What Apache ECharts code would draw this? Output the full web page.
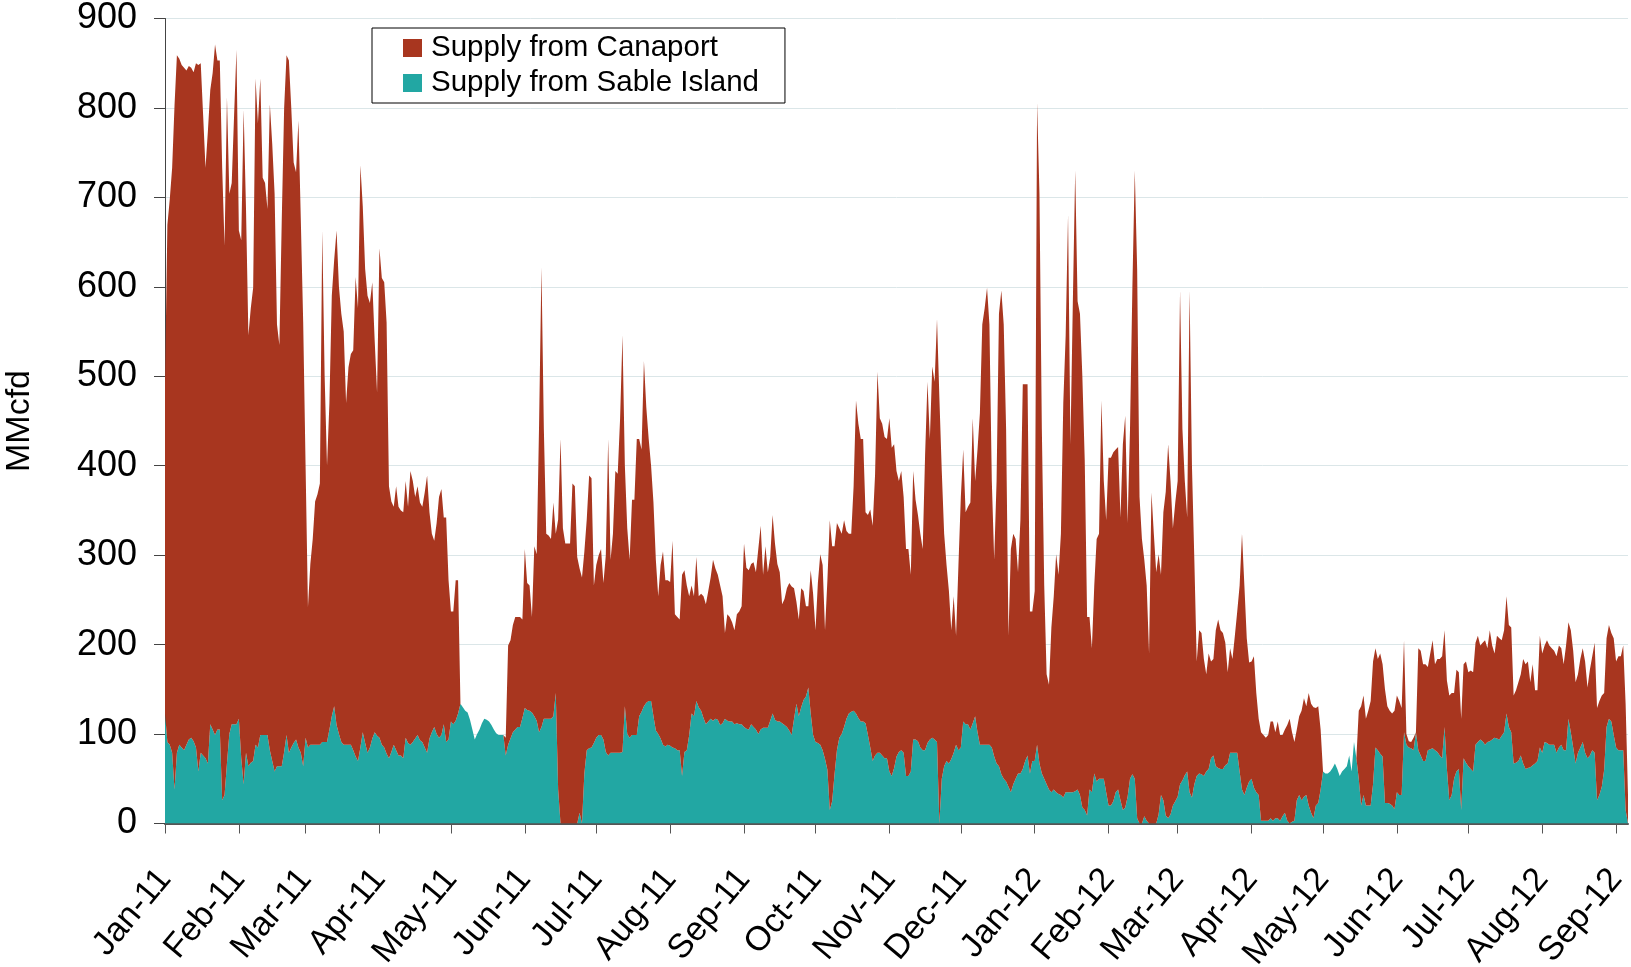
<!DOCTYPE html>
<html>
<head>
<meta charset="utf-8">
<title>Supply from Canaport and Sable Island</title>
<script src="https://cdn.jsdelivr.net/npm/echarts@6/dist/echarts.min.js"></script>
<style>
  html, body { margin: 0; padding: 0; background: #fff; }
  #chart { width: 1631px; height: 967px; }
</style>
</head>
<body>
<div id="chart"></div>
<script>
// Daily supply, MMcfd. "Total" is the combined supply (top of the stack),
// "Sable Island" is the lower band; Canaport is the part above it.
const firstDay = '2011-01-01';
const monthNames = ['Jan','Feb','Mar','Apr','May','Jun','Jul','Aug','Sep','Oct','Nov','Dec'];
const yTicks = [0, 100, 200, 300, 400, 500, 600, 700, 800, 900];

const totalSupply2011 = [
  // Jan
  491,669,698,733,803,859,855,848,845,842,847,845,840,850,848,850,792,733,774,820,839,871,853,853,733,646,812,704,716,792,865,
  // Feb
  663,652,798,687,546,576,599,833,783,833,722,716,687,804,760,704,558,535,675,800,859,853,800,739,728,786,675,560,
  // Mar
  400,242,290,318,360,368,380,663,500,400,470,590,630,663,600,570,550,470,510,525,529,611,576,736,690,620,590,582,605,540,482,
  // Apr
  643,610,605,560,377,360,354,377,354,350,348,383,354,394,383,365,377,359,354,370,389,348,324,316,336,365,374,342,342,272,
  // May
  237,237,272,272,134,130,126,124,116,105,94,100,105,112,117,116,114,110,105,101,99,99,99,96,199,205,222,231,231,231,228,
  // Jun
  307,269,266,231,310,301,447,622,441,324,322,318,359,324,340,430,330,313,313,313,380,377,298,285,275,304,340,389,386,266,
  // Jul
  289,300,307,269,300,430,295,324,394,391,453,546,400,330,295,362,362,430,430,418,517,465,430,400,359,295,254,289,304,272,272,
  // Aug
  270,316,234,231,228,278,283,266,254,266,254,298,254,257,254,245,260,275,295,285,278,266,254,213,234,231,225,216,234,237,243,
  // Sep
  313,286,283,290,292,281,307,333,278,310,281,298,345,313,290,281,245,251,263,269,265,263,248,228,263,260,243,243,283,257,
  // Oct
  216,269,301,289,216,272,339,310,310,336,330,324,339,327,324,324,377,473,447,430,430,348,345,351,333,390,505,453,447,432,430,
  // Nov
  453,420,424,394,383,394,365,307,307,278,394,362,345,324,307,412,494,430,511,494,564,476,394,324,289,260,216,254,210,289,
  // Dec
  365,418,348,354,359,453,383,418,459,558,576,599,558,383,295,383,570,596,558,441,210,307,324,318,281,339,491,491,491,237,237
];

const totalSupply2012 = [
  // Jan
  260,806,704,441,266,167,155,219,254,301,278,324,470,546,681,424,582,730,584,570,500,406,231,231,196,266,318,324,473,383,339,
  // Feb
  409,409,415,418,421,342,424,456,336,441,600,730,620,365,318,295,266,190,370,324,281,301,278,348,371,424,383,330,359,
  // Mar
  383,596,441,383,342,596,400,295,181,216,213,184,167,190,181,184,216,228,216,213,202,169,196,184,210,237,266,324,266,207,180,
  // Apr
  181,187,146,117,102,99,96,99,114,114,102,114,99,99,105,110,117,102,91,105,120,126,140,131,146,134,130,129,131,105,
  // May
  58,56,56,58,62,67,61,53,58,61,64,76,58,91,73,126,131,143,117,126,137,181,196,184,190,178,150,131,126,123,126,
  // Jun
  143,137,129,205,100,92,91,96,102,196,193,178,178,175,190,205,178,184,184,187,216,160,143,146,146,172,169,117,178,181,
  // Jul
  169,171,169,202,210,199,202,205,196,216,199,190,210,207,205,216,254,222,219,143,149,158,167,184,178,181,158,178,149,149,210,
  // Aug
  190,199,205,199,196,193,187,199,196,178,199,225,216,193,158,167,184,196,181,152,172,187,202,129,137,143,146,207,222,213,207,
  // Sep
  181,187,187,199,134,32
];

const sableIsland2011 = [
  // Jan
  123,91,88,79,38,79,88,85,82,88,94,96,92,85,58,79,76,73,67,111,105,99,105,105,26,32,67,100,111,111,111,
  // Feb
  117,73,44,79,64,68,70,88,85,99,99,99,99,82,70,58,64,64,64,80,99,79,85,90,94,85,79,64,
  // Mar
  96,85,88,88,88,88,88,91,91,91,105,120,131,110,100,91,88,88,88,88,82,75,70,85,102,90,79,85,95,102,98,
  // Apr
  96,88,85,78,73,80,88,82,76,76,73,96,90,88,91,95,99,93,91,85,79,95,102,108,100,96,99,111,91,94,
  // May
  114,111,115,123,134,130,126,124,116,105,94,100,105,112,117,116,114,110,105,101,99,99,99,76,88,95,102,105,108,108,118,
  // Jun
  129,127,126,124,120,115,102,108,117,117,117,117,120,146,38,0,0,0,0,0,0,0,0,12,0,56,82,84,85,90,
  // Jul
  96,99,99,94,80,76,79,79,79,79,79,80,131,100,96,99,99,99,120,125,131,135,137,137,120,104,100,95,88,86,88,
  // Aug
  87,85,84,82,82,53,80,82,99,123,120,137,130,126,118,111,114,117,115,117,116,110,112,117,115,114,114,111,112,111,111,
  // Sep
  108,106,105,111,108,105,100,105,107,107,107,115,123,116,114,114,112,110,108,104,99,117,134,120,130,138,142,152,123,99,
  // Oct
  91,90,88,82,72,60,15,25,55,82,96,100,108,117,123,125,126,123,118,114,114,112,99,85,70,76,79,79,76,73,73,
  // Nov
  58,53,62,75,80,82,79,53,53,58,94,94,92,85,82,82,90,94,96,94,91,0,50,64,70,67,72,79,88,82,
  // Dec
  85,114,111,111,105,112,120,102,88,88,88,88,88,85,75,67,64,55,50,47,41,35,44,50,56,56,61,70,76,56,70
];

const sableIsland2012 = [
  // Jan
  70,88,67,56,50,44,38,35,38,35,33,32,29,35,35,35,35,36,38,32,18,15,9,38,35,56,47,50,50,50,35,
  // Feb
  20,20,25,35,38,26,15,18,30,50,55,50,6,0,0,8,3,0,0,0,0,10,32,26,9,6,10,20,25,
  // Mar
  30,44,48,54,58,35,29,44,53,56,55,53,58,61,73,76,64,62,61,61,65,67,79,79,79,79,58,38,32,40,47,
  // Apr
  50,40,35,32,3,3,3,3,6,3,6,6,3,8,12,3,0,2,3,26,32,26,30,32,20,12,6,20,23,38,
  // May
  58,56,56,58,62,67,61,53,58,61,64,76,58,91,73,50,20,32,20,20,20,44,85,82,78,75,23,23,22,20,16,
  // Jun
  35,32,32,102,88,85,84,82,102,82,76,70,70,82,83,84,82,80,76,73,108,61,26,32,50,58,61,15,73,68,
  // Jul
  64,61,58,88,91,94,92,88,91,92,94,96,95,94,98,102,123,108,102,67,68,70,76,67,61,62,63,65,67,70,85,
  // Aug
  79,91,90,88,88,88,79,85,88,82,82,117,102,85,67,79,85,91,79,73,76,82,79,26,32,41,60,108,117,114,99,
  // Sep
  85,82,82,82,15,0
];

const seriesNames = ['Supply from Canaport', 'Supply from Sable Island'];
const canaportColor = '#A8361F';
const sableColor = '#22A7A3';

// Assemble the daily series
const totalSupply = totalSupply2011.concat(totalSupply2012);
const sableIsland = sableIsland2011.concat(sableIsland2012);
const canaport = totalSupply.map((t, i) => Math.max(0, t - sableIsland[i]));

const days = [];
const startMs = Date.parse(firstDay + 'T00:00:00Z');
for (let i = 0; i < totalSupply.length; i++) {
  days.push(new Date(startMs + i * 86400000).toISOString().slice(0, 10));
}
const isMonthStart = (idx, value) => value.slice(8, 10) === '01';
const monthLabel = (value) => monthNames[Number(value.slice(5, 7)) - 1] + '-' + value.slice(2, 4);

const font = 'Liberation Sans, Arial, sans-serif';
const chart = echarts.init(document.getElementById('chart'), null, { renderer: 'canvas' });

chart.setOption({
  animation: false,
  backgroundColor: '#ffffff',
  grid: { left: 165, right: 3, top: 18.5, bottom: 143.5, containLabel: false, outerBoundsMode: 'none' },
  legend: {
    orient: 'vertical',
    left: 372,
    top: 28,
    data: seriesNames,
    icon: 'rect',
    itemWidth: 19,
    itemHeight: 18,
    itemGap: 5,
    padding: [5, 26, 5, 31],
    borderColor: '#000',
    borderWidth: 1,
    backgroundColor: '#fff',
    selectedMode: false,
    textStyle: { fontFamily: font, fontSize: 29.5, color: '#000', lineHeight: 28, padding: [0, 0, 0, 4] }
  },
  xAxis: {
    type: 'category',
    data: days,
    boundaryGap: false,
    axisLine: { show: true, lineStyle: { color: '#555', width: 2 } },
    axisTick: { show: true, interval: isMonthStart, length: 10, lineStyle: { color: '#555', width: 1 } },
    axisLabel: {
      interval: isMonthStart,
      formatter: monthLabel,
      rotate: 50,
      margin: 50,
      fontFamily: font,
      fontSize: 34,
      color: '#000'
    },
    splitLine: { show: false }
  },
  yAxis: {
    type: 'value',
    min: yTicks[0],
    max: yTicks[yTicks.length - 1],
    interval: yTicks[1] - yTicks[0],
    name: 'MMcfd',
    nameLocation: 'middle',
    nameRotate: 90,
    nameGap: 128,
    nameTextStyle: { fontFamily: font, fontSize: 34, color: '#000' },
    axisLine: { show: true, lineStyle: { color: '#444', width: 1 } },
    axisTick: { show: true, length: 11, lineStyle: { color: '#444', width: 1 } },
    axisLabel: { fontFamily: font, fontSize: 36, color: '#000', margin: 28 },
    splitLine: { show: true, lineStyle: { color: '#dbe6e8', width: 1 } }
  },
  series: [
    {
      name: seriesNames[1],
      type: 'line',
      stack: 'supply',
      data: sableIsland,
      showSymbol: false,
      symbol: 'none',
      lineStyle: { width: 0 },
      itemStyle: { color: sableColor },
      areaStyle: { color: sableColor, opacity: 1 },
      z: 2
    },
    {
      name: seriesNames[0],
      type: 'line',
      stack: 'supply',
      data: canaport,
      showSymbol: false,
      symbol: 'none',
      lineStyle: { width: 0 },
      itemStyle: { color: canaportColor },
      areaStyle: { color: canaportColor, opacity: 1 },
      z: 2
    }
  ]
});
</script>
</body>
</html>
